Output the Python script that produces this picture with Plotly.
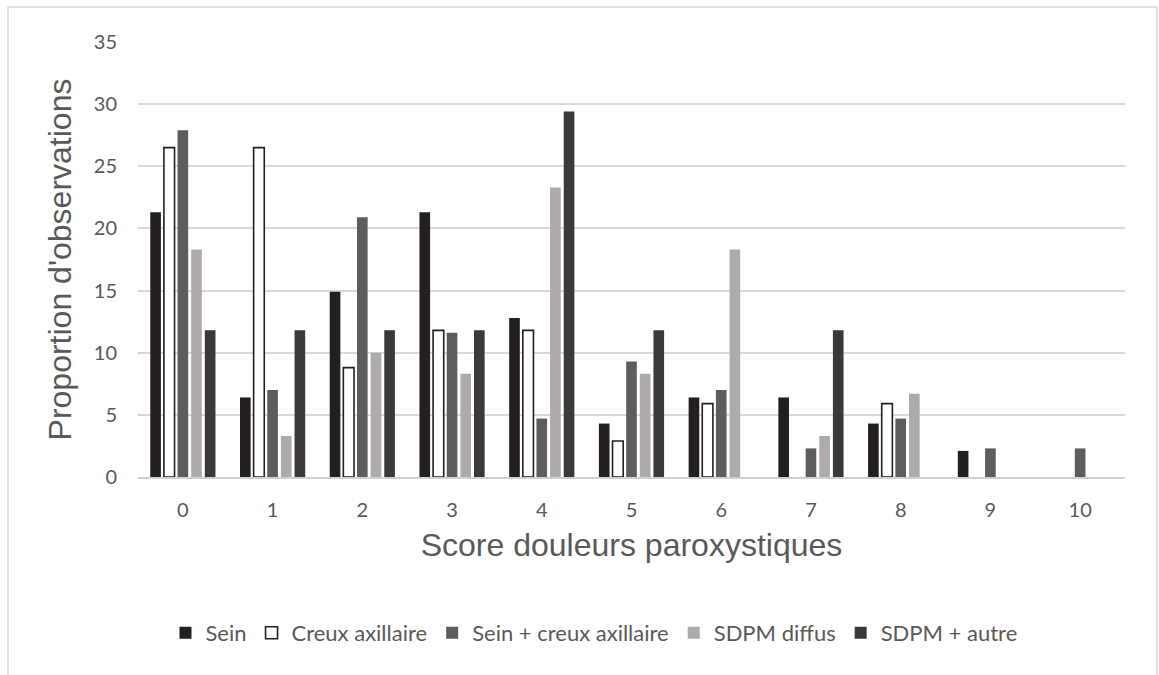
import plotly.graph_objects as go

# ---- data ----
scores = [0, 1, 2, 3, 4, 5, 6, 7, 8, 9, 10]
sein = [21.3, 6.4, 14.9, 21.3, 12.8, 4.3, 6.4, 6.4, 4.3, 2.1, None]
creux_axillaire = [26.5, 26.5, 8.8, 11.8, 11.8, 2.9, 5.9, None, 5.9, None, None]
sein_creux = [27.9, 7.0, 20.9, 11.6, 4.7, 9.3, 7.0, 2.3, 4.7, 2.3, 2.3]
sdpm_diffus = [18.3, 3.3, 10.0, 8.3, 23.3, 8.3, 18.3, 3.3, 6.7, None, None]
sdpm_autre = [11.8, 11.8, 11.8, 11.8, 29.4, 11.8, None, 11.8, None, None, None]
series_names = ["Sein", "Creux axillaire", "Sein + creux axillaire", "SDPM diffus", "SDPM + autre"]
y_ticks = [0, 5, 10, 15, 20, 25, 30, 35]

W, H = 1159, 675
L, R, T, B = 138, 34, 42, 198
pw, ph = W - L - R, H - T - B


def px_x(x):
    return (x - L) / pw


def px_y(y):
    return (H - B - y) / ph


TXT = "#595959"
fig = go.Figure()
fills = ["#231f20", "#ffffff", "#5d5d5f", "#adaaa9", "#3a3839"]
lines = [0, 1.6, 0, 0, 0]
for name, vals, fc, lw in zip(series_names, [sein, creux_axillaire, sein_creux, sdpm_diffus, sdpm_autre], fills, lines):
    fig.add_trace(go.Bar(
        x=scores, y=vals, name=name,
        marker=dict(color=fc, line=dict(color="#231f20", width=lw)),
    ))

fig.update_layout(
    width=W, height=H,
    margin=dict(l=L, r=R, t=T, b=B),
    paper_bgcolor="white", plot_bgcolor="white",
    barmode="group", bargap=0.24, bargroupgap=0.22,
    font=dict(family="Lato, Open Sans, sans-serif", color=TXT),
    showlegend=True,
    legend=dict(orientation="h", x=px_x(594), xanchor="center", y=px_y(633), yanchor="middle",
                font=dict(size=22, color=TXT, family="Lato, sans-serif"),
                itemwidth=30, bgcolor="rgba(0,0,0,0)"),
    xaxis=dict(
        tickmode="array", tickvals=scores, ticktext=[str(s) for s in scores],
        range=[-0.5, 10.5], showgrid=False, zeroline=False,
        showline=True, linecolor="#d0d0d0", linewidth=1.5, ticks="",
        tickfont=dict(size=20, color=TXT, family="Lato, sans-serif"),
        ticklabelstandoff=14,
        title=dict(text="Score douleurs paroxystiques", standoff=14,
                   font=dict(size=32, color=TXT, family="Liberation Sans, Arial, sans-serif")),
    ),
    yaxis=dict(
        range=[0, 35], tickmode="array", tickvals=y_ticks,
        showgrid=True, gridcolor="#d9d9d9", gridwidth=1.5, zeroline=False,
        showline=False, ticks="",
        tickfont=dict(size=20, color=TXT, family="Lato, sans-serif"),
        ticklabelstandoff=20,
        title=dict(text="Proportion d'observations", standoff=12,
                   font=dict(size=32, color=TXT, family="Liberation Sans, Arial, sans-serif")),
    ),
)

fig.add_shape(type="rect", xref="paper", yref="paper",
              x0=px_x(8), x1=px_x(1157), y0=px_y(690), y1=px_y(7),
              line=dict(color="#d9d9d9", width=1.5), fillcolor="rgba(0,0,0,0)", layer="below")

fig.write_html("out.html", config={"displayModeBar": False},
               post_script="document.body.style.margin='0';document.body.style.overflow='hidden';")
